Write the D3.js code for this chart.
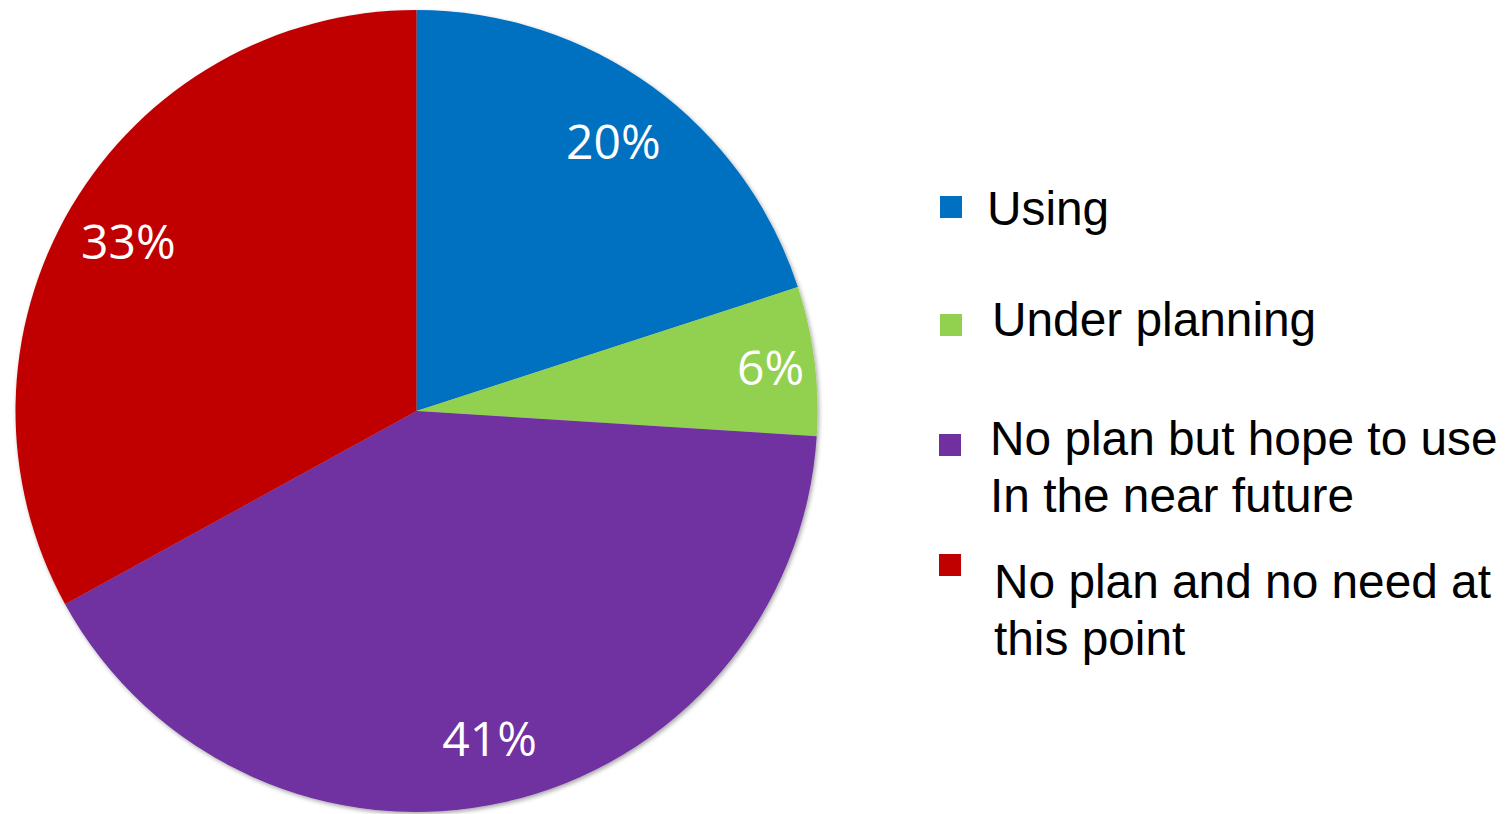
<!DOCTYPE html>
<html>
<head>
<meta charset="utf-8">
<script src="https://cdn.jsdelivr.net/npm/d3@7/dist/d3.min.js"></script>
<style>
  html, body { margin: 0; padding: 0; background: #ffffff; }
  svg { display: block; }
</style>
</head>
<body>
<svg id="chart" width="1508" height="814"></svg>
<script>
// Survey shares, clockwise from 12 o'clock
const categories = ["Using", "Under planning", "No plan but hope to use\nIn the near future", "No plan and no need at\nthis point"];
const values = [20, 6, 41, 33];
const colors = ["#0070C0", "#92D050", "#7030A0", "#C00000"];

const svg = d3.select("#chart");

const cx = 416.5, cy = 411, R = 401;

// soft drop shadow under the pie
const defs = svg.append("defs");
const f = defs.append("filter").attr("id", "shadow")
  .attr("x", "-10%").attr("y", "-10%").attr("width", "120%").attr("height", "120%");
f.append("feDropShadow").attr("dx", 1.5).attr("dy", 2).attr("stdDeviation", 2)
  .attr("flood-color", "#000").attr("flood-opacity", 0.35);

const pie = d3.pie().sort(null).value(d => d)(values);
const arc = d3.arc().innerRadius(0).outerRadius(R);

const g = svg.append("g").attr("transform", `translate(${cx},${cy})`);

g.append("g").attr("filter", "url(#shadow)")
  .selectAll("path")
  .data(pie)
  .join("path")
  .attr("d", arc)
  .attr("fill", (d, i) => colors[i]);

// percentage labels inside the slices; thin slices push the label outward
const total = d3.sum(values);
g.selectAll("text.pct")
  .data(pie)
  .join("text")
  .attr("class", "pct")
  .each(function (d) {
    const share = d.value / total;
    const rr = share < 0.1 ? R * 0.89 : R * 0.835;
    const a = (d.startAngle + d.endAngle) / 2;
    d3.select(this)
      .attr("x", Math.sin(a) * rr)
      .attr("y", -Math.cos(a) * rr);
  })
  .attr("text-anchor", "middle")
  .attr("dominant-baseline", "central")
  .attr("fill", "#ffffff")
  .style("font-family", "'Open Sans', sans-serif")
  .style("font-size", "48px")
  .text(d => Math.round(d.value / total * 100) + "%");

// legend
const legendRows = [
  { sq: [940, 196], x: 987, base: 225 },
  { sq: [940, 314], x: 992, base: 336 },
  { sq: [939, 434], x: 990, base: 455 },
  { sq: [939, 554], x: 994, base: 598 }
];
const lineGap = 57;

const lg = svg.append("g");
categories.forEach((c, i) => {
  const row = legendRows[i];
  lg.append("rect")
    .attr("x", row.sq[0]).attr("y", row.sq[1])
    .attr("width", 22).attr("height", 22)
    .attr("fill", colors[i]);
  const t = lg.append("text")
    .attr("x", row.x).attr("y", row.base)
    .attr("fill", "#000000")
    .style("font-family", "'Liberation Sans', Arial, sans-serif")
    .style("font-size", "47.8px");
  c.split("\n").forEach((line, j) => {
    t.append("tspan").attr("x", row.x).attr("y", row.base + j * lineGap).text(line);
  });
});
</script>
</body>
</html>
